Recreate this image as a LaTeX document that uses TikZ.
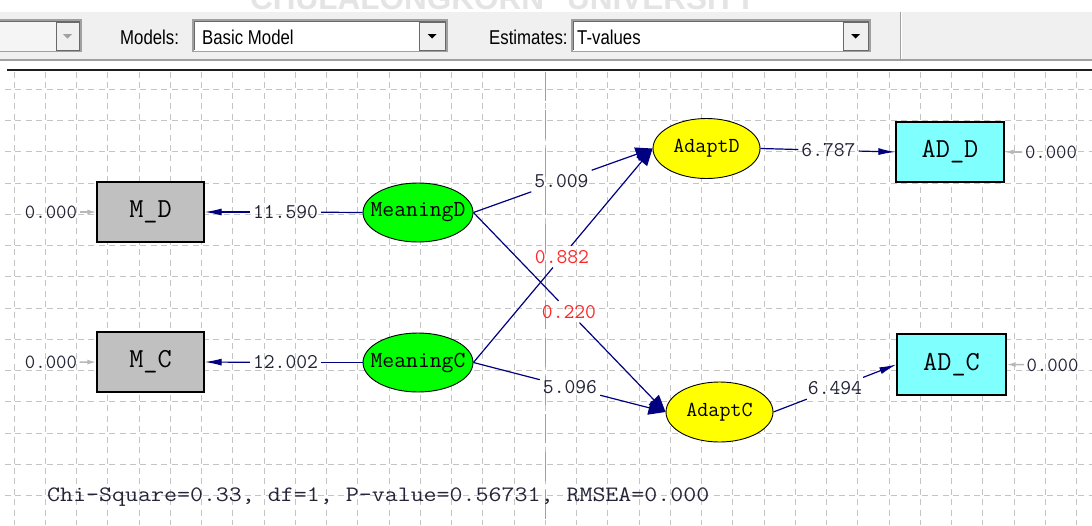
\documentclass[tikz,border=0pt]{standalone}
\usepackage{fontspec}
\usepackage{graphicx}
\setmainfont{Liberation Sans}
\usetikzlibrary{arrows.meta,shapes.geometric}

\definecolor{navyline}{RGB}{0,0,128}
\definecolor{tvalink}{RGB}{36,36,56}
\definecolor{redval}{RGB}{255,40,40}
\definecolor{gridgray}{RGB}{196,196,196}
\definecolor{errgray}{RGB}{184,184,184}
\definecolor{obsfill}{RGB}{192,192,192}
\definecolor{endofill}{RGB}{128,255,255}
\definecolor{exofill}{RGB}{0,255,0}
\definecolor{latfill}{RGB}{255,255,0}
\definecolor{barbg}{RGB}{240,240,240}
\definecolor{barline}{RGB}{160,160,160}
\definecolor{bardark}{RGB}{105,105,105}
\definecolor{wmgray}{RGB}{228,228,228}

\newcommand{\monosize}[1]{\ttfamily\fontsize{#1}{#1}\selectfont}

\tikzset{
  gridline/.style={gridgray, line width=0.9pt, dash pattern=on 6pt off 4.42pt},
  pagebreak/.style={barline, line width=1pt, dash pattern=on 29pt off 9pt},
  obsbox/.style={rectangle, draw=black, line width=1.3pt, inner sep=0pt,
    minimum width=107pt, minimum height=60pt, font=\monosize{27.5}},
  latvar/.style={ellipse, draw=black, line width=0.9pt, inner sep=0pt,
    minimum height=59pt},
  tval/.style={inner xsep=3pt, inner ysep=4pt, text=tvalink, font=\monosize{21}},
  redtval/.style={tval, text=redval},
  errval/.style={tval, inner xsep=2.5pt, font=\monosize{20.2}},
  pathline/.style={navyline, line width=1.2pt},
  smallhead/.style={pathline, -{Latex[length=17pt,width=7pt]}},
  bighead/.style={pathline, -{Triangle[length=17pt,width=14pt]}},
  errarrow/.style={errgray, line width=1.4pt, -{Latex[length=9pt,width=5pt]}},
  combo/.style={draw=barline, line width=1.6pt},
  combobtn/.style={fill=barbg, draw=bardark, line width=0.8pt},
  bartext/.style={anchor=base west, inner sep=0pt, text=black,
    font=\fontsize{20}{20}\selectfont},
  wmtext/.style={anchor=base west, inner sep=0pt, text=wmgray,
    font=\fontsize{31.5}{31.5}\selectfont\bfseries},
}

\begin{document}
\begin{tikzpicture}[x=1pt, y=-1pt]
\clip (0,0) rectangle (1092,525);
\fill[white] (0,0) rectangle (1092,525);

% watermark strip above the toolbar
\node[wmtext] (wm1) at (250,9.5) {CHULALONGKORN};
\node[wmtext] (wm2) at (567,9.5) {UNIVERSITY};

% toolbar
\fill[barbg] (0,12) rectangle (1092,58.5);
\fill[barline] (0,58.5) rectangle (1092,61);
\fill[black!88] (7,68.5) rectangle (1092,71);
\draw[barline, line width=1pt] (900,12) -- (900,58.5);
\draw[white, line width=1pt] (901.2,12) -- (901.2,58.5);

% left (disabled) combo box
\draw[combo, fill=white!96!black] (-2,20) rectangle (81,51.5);
\draw[bardark, line width=0.8pt] (-2,50) -- (-2,21.5) -- (79.5,21.5);
\draw[combobtn] (56,22.5) rectangle (79.5,50);
\fill[barline] (63,34) -- (72,34) -- (67.5,38.5) -- cycle;

% models combo box
\node[bartext] (lblmodels) at (120,44.5) {\scalebox{0.84}[1]{Models:}};
\draw[combo, fill=white] (193,20) rectangle (447,51.5);
\draw[bardark, line width=0.8pt] (194.5,50) -- (194.5,21.5) -- (445.5,21.5);
\draw[combobtn] (419,22.5) rectangle (445.5,50);
\fill[black] (427.5,34) -- (436.5,34) -- (432,38.5) -- cycle;
\node[bartext] (valmodels) at (202,44.5) {\scalebox{0.84}[1]{Basic Model}};

% estimates combo box
\node[bartext] (lblest) at (489,44.5) {\scalebox{0.84}[1]{Estimates:}};
\draw[combo, fill=white] (572,20) rectangle (870,51.5);
\draw[bardark, line width=0.8pt] (573.5,50) -- (573.5,21.5) -- (868.5,21.5);
\draw[combobtn] (843,22.5) rectangle (868.5,50);
\fill[black] (851,34) -- (860,34) -- (855.5,38.5) -- cycle;
\node[bartext] (valest) at (577,44.5) {\scalebox{0.84}[1]{T-values}};

% drawing grid
\foreach \k in {0,...,34} {
  \draw[gridline] ({14+31.25*\k},72) -- ({14+31.25*\k},525);
}
\foreach \k in {0,...,13} {
  \draw[gridline] (5,{89.3+31.25*\k}) -- (1092,{89.3+31.25*\k});
}
\draw[pagebreak] (545.25,72) -- (545.25,525);

% observed variables
\node[obsbox, fill=obsfill] (MD) at (150.5,212) {M\_D};
\node[obsbox, fill=obsfill] (MC) at (150.5,362) {M\_C};
\node[obsbox, fill=endofill, minimum width=108pt] (ADD) at (950,152) {AD\_D};
\node[obsbox, fill=endofill, minimum width=109pt, minimum height=61pt] (ADC) at (951.5,364.5) {AD\_C};

% latent variables
\node[latvar, fill=exofill, minimum width=110pt, font=\monosize{23}]
  (MeD) at (418,212.5) {\makebox[0pt]{MeaningD}};
\node[latvar, fill=exofill, minimum width=110pt, font=\monosize{23}]
  (MeC) at (418,362.5) {\makebox[0pt]{MeaningC}};
\node[latvar, fill=latfill, minimum width=107pt, minimum height=60pt, font=\monosize{21.4}]
  (AdD) at (706.5,148.5) {\makebox[0pt]{AdaptD}};
\node[latvar, fill=latfill, minimum width=107pt, minimum height=60pt, font=\monosize{21.4}]
  (AdC) at (719.5,412) {\makebox[0pt]{AdaptC}};

% measurement paths
\node[tval] (t1) at (285.5,212) {11.590};
\draw[pathline] (MeD.west) -- (t1);
\draw[smallhead] (t1) -- (MD.east);
\node[tval] (t2) at (285.5,362.5) {12.002};
\draw[pathline] (MeC.west) -- (t2);
\draw[smallhead] (t2) -- (MC.east);

\node[tval] (t7) at (828.5,150.3) {6.787};
\draw[pathline] (AdD.east) -- (t7);
\draw[smallhead] (t7) -- (ADD.west);
\node[tval] (t8) at (835,388.3) {6.494};
\draw[pathline] (AdC.east) -- (t8);
\draw[smallhead] (t8) -- (ADC.west);

% structural paths
\node[tval] (t3) at (561.5,181) {5.009};
\draw[pathline] (MeD.east) -- (t3);
\draw[bighead] (t3) -- (AdD.west);
\node[redtval] (t4) at (562,256.7) {0.882};
\draw[pathline] (MeC.east) -- (t4);
\draw[bighead] (t4) -- (AdD.west);
\node[redtval] (t5) at (569,311.7) {0.220};
\draw[pathline] (MeD.east) -- (t5);
\draw[bighead] (t5) -- (AdC.west);
\node[tval] (t6) at (570,387.5) {5.096};
\draw[pathline] (MeC.east) -- (t6);
\draw[bighead] (t6) -- (AdC.west);

% error variances
\node[errval] (e1) at (51,212) {0.000};
\draw[errarrow] (e1) -- (MD.west);
\node[errval] (e2) at (51,362.5) {0.000};
\draw[errarrow] (e2) -- (MC.west);
\node[errval] (e3) at (1051,152) {0.000};
\draw[errarrow] (e3) -- (ADD.east);
\node[errval] (e4) at (1052.5,365) {0.000};
\draw[errarrow] (e4) -- (ADC.east);

% fit statistics
\node[anchor=base west, inner sep=0pt, text=tvalink, font=\monosize{22}]
  (fit) at (47,501) {\scalebox{1.146}[1]{Chi-Square=0.33, df=1, P-value=0.56731, RMSEA=0.000}};
\end{tikzpicture}
\end{document}
